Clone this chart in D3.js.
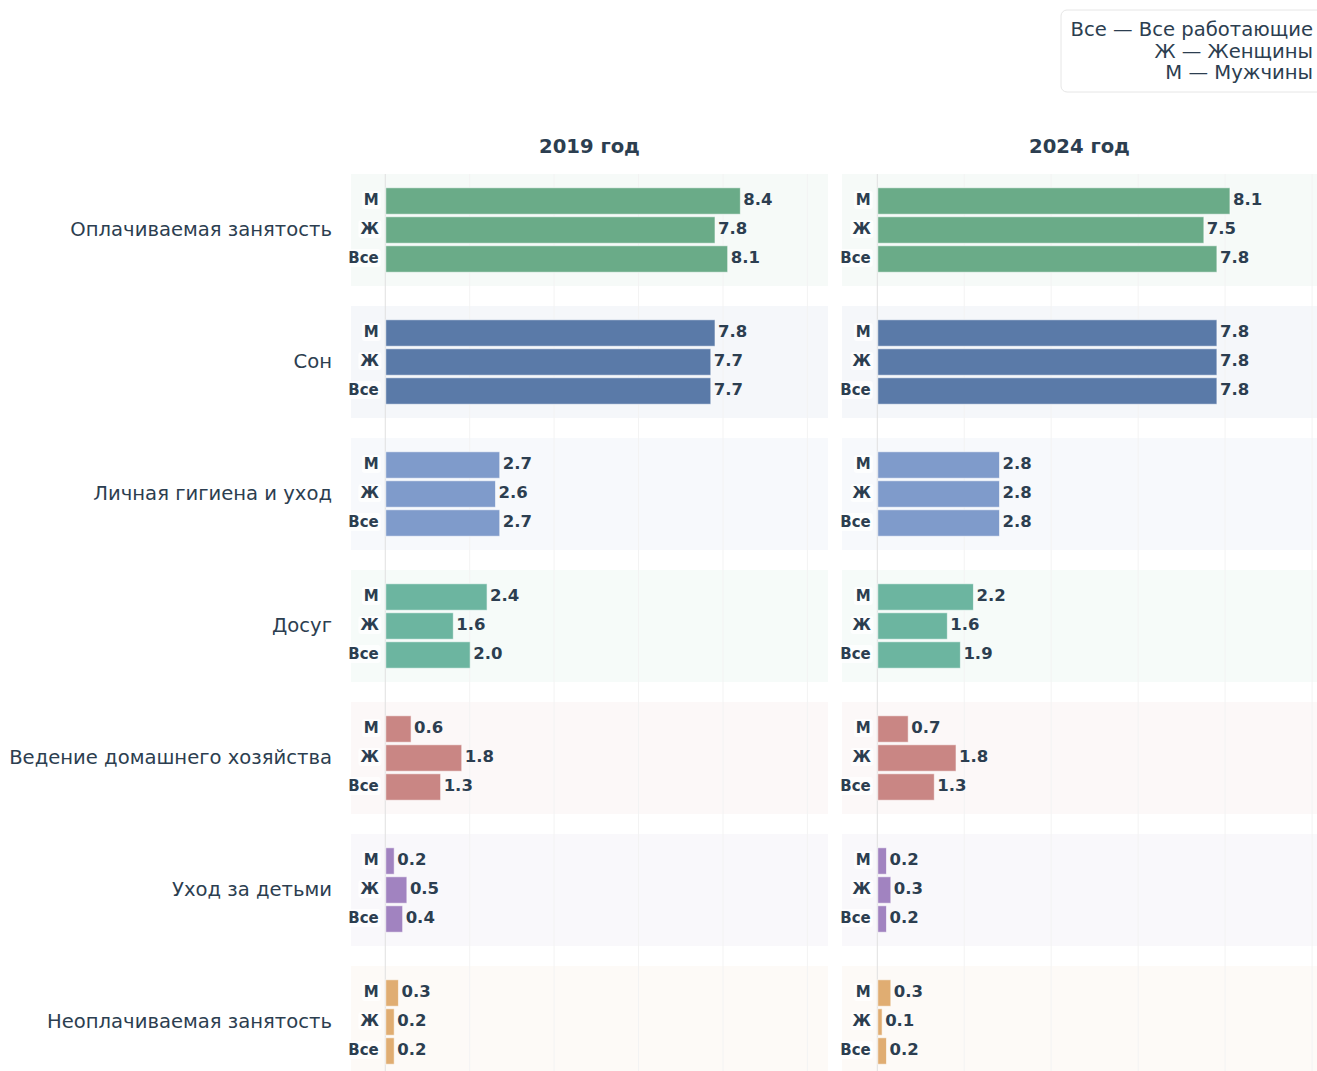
<!DOCTYPE html>
<html><head><meta charset="utf-8">
<script src="https://cdn.jsdelivr.net/npm/d3@7"></script>
<style>
html,body{margin:0;padding:0;background:#fff;overflow:hidden}
svg{display:block;font-family:"DejaVu Sans",sans-serif}
</style></head>
<body>
<script>
const categories = ["Оплачиваемая занятость","Сон","Личная гигиена и уход","Досуг","Ведение домашнего хозяйства","Уход за детьми","Неоплачиваемая занятость"];
const groups = ["М","Ж","Все"];
const years = ["2019 год","2024 год"];
// values per category: [М, Ж, Все]
const values2019 = [[8.4,7.8,8.1],[7.8,7.7,7.7],[2.7,2.6,2.7],[2.4,1.6,2.0],[0.6,1.8,1.3],[0.2,0.5,0.4],[0.3,0.2,0.2]];
const values2024 = [[8.1,7.5,7.8],[7.8,7.8,7.8],[2.8,2.8,2.8],[2.2,1.6,1.9],[0.7,1.8,1.3],[0.2,0.3,0.2],[0.3,0.1,0.2]];
const colors = ["#6aab88","#5a7aa8","#7f9bcb","#6cb5a0","#c98684","#a183c0","#e0ad72"];
const legendLines = ["Все — Все работающие","Ж — Женщины","М — Мужчины"];
const tickValues = [0,2,4,6,8,10];

const W = 1317, H = 1071;
const svg = d3.select("body").append("svg").attr("width",W).attr("height",H);
const textColor = "#2c3e50";

const yCenter = d3.scalePoint().domain(categories).range([230, 230+6*132]);
const yRow = d3.scaleBand().domain(groups).range([-43.5,43.5]).paddingInner(0.086).paddingOuter(0.043);

const panels = [
  {title: years[0], data: values2019, x0: 351, x1: 828},
  {title: years[1], data: values2024, x0: 842, x1: 1317}
];

panels.forEach(p => {
  const maxV = d3.max(p.data.flat());
  const x = d3.scaleLinear().domain([-0.8, maxV*1.25]).range([p.x0, p.x1]);
  const g = svg.append("g");
  // backgrounds
  g.selectAll("rect.bg").data(categories).join("rect")
    .attr("class","bg")
    .attr("x", p.x0).attr("width", p.x1 - p.x0)
    .attr("y", d => yCenter(d) - 56).attr("height", 112)
    .attr("fill", (d,i) => colors[i]).attr("fill-opacity", 0.06);
  // grid
  const grid = g.append("g").attr("transform","translate(0,174)")
    .call(d3.axisBottom(x).tickValues(tickValues).tickSize(H).tickFormat(""));
  grid.select(".domain").remove();
  grid.selectAll(".tick line").attr("stroke", d => d===0 ? "#e0e0e0" : "#f3f3f3").attr("stroke-width",1);
  // title
  svg.append("text").attr("x", (p.x0+p.x1)/2).attr("y", 146)
    .attr("dy","0.36em")
    .attr("text-anchor","middle").attr("font-size",19.6).attr("font-weight","bold")
    .attr("fill", textColor).text(p.title);
  // bars
  categories.forEach((c,ci) => {
    const cg = g.append("g").attr("transform", `translate(0,${yCenter(c)})`);
    const rows = groups.map((gr,gi) => ({gr, v: p.data[ci][gi]}));
    cg.selectAll("rect.bar").data(rows).join("rect")
      .attr("class","bar")
      .attr("x", x(0)+1).attr("y", d => yRow(d.gr))
      .attr("width", d => x(d.v) - x(0)).attr("height", yRow.bandwidth())
      .attr("fill", colors[ci]).attr("stroke","#ffffff").attr("stroke-opacity",0.6).attr("stroke-width",1);
    cg.selectAll("text.val").data(rows).join("text")
      .attr("class","val")
      .attr("x", d => x(d.v) + 4).attr("y", d => yRow(d.gr) + yRow.bandwidth()/2 - 1.5)
      .attr("dy","0.36em").attr("font-size",16.5).attr("font-weight","bold")
      .attr("fill", textColor).text(d => d.v.toFixed(1));
    // row labels with bg
    const lab = cg.selectAll("g.lab").data(rows).join("g").attr("class","lab");
    lab.append("text")
      .attr("x", x(0) - 6).attr("y", d => yRow(d.gr) + yRow.bandwidth()/2 - 1.5)
      .attr("dy","0.36em").attr("text-anchor","end").attr("font-size",15).attr("font-weight","bold")
      .attr("fill", textColor).text(d => d.gr);
    lab.each(function(){
      const t = d3.select(this).select("text");
      const b = t.node().getBBox();
      d3.select(this).insert("rect","text")
        .attr("x", b.x-2).attr("y", b.y).attr("width", b.width+4).attr("height", b.height)
        .attr("rx",3).attr("fill","#fff").attr("fill-opacity",0.75);
    });
  });
});

// category labels
svg.append("g").selectAll("text").data(categories).join("text")
  .attr("x", 332).attr("y", d => yCenter(d) - 1).attr("dy","0.36em")
  .attr("text-anchor","end").attr("font-size",19.6).attr("fill", textColor).text(d => d);

// legend
const lg = svg.append("g");
lg.append("rect").attr("x",1061).attr("y",10).attr("width",270).attr("height",82)
  .attr("rx",6).attr("fill","#fff").attr("stroke","#e6e6e6");
lg.selectAll("text").data(legendLines).join("text")
  .attr("x",1313).attr("y",(d,i)=>29 + i*21.5).attr("dy","0.36em")
  .attr("text-anchor","end").attr("font-size",19.6).attr("fill",textColor).text(d=>d);
</script>
</body></html>
